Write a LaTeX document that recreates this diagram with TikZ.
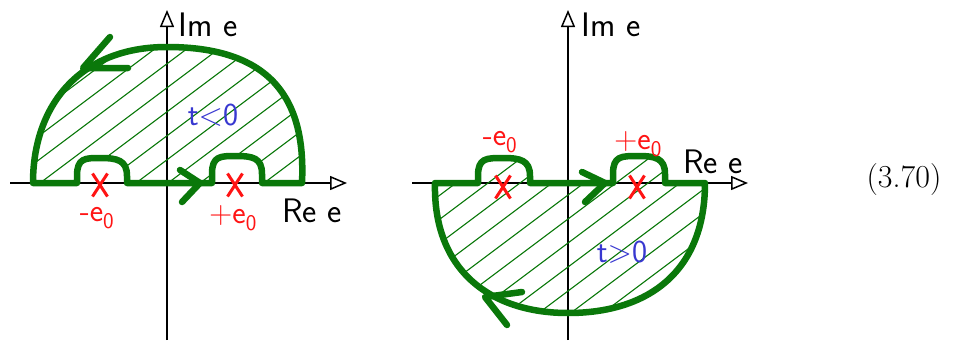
\documentclass[tikz,border=0pt]{standalone}
\usepackage{tikz}
\usetikzlibrary{arrows.meta,shapes.misc}
\definecolor{LoopGreen}{HTML}{0A780A}
\definecolor{PoleRed}{HTML}{FF1414}
\definecolor{TimeBlue}{HTML}{3838D0}
% closed contours (upper half for t<0, lower half for t>0)
\newcommand{\upperloop}{(33,183) -- (77,183) -- (77,176) .. controls (77,158) and (85,158) .. (100,158) .. controls (117,158) and (127,160) .. (127,176) -- (127,183) -- (212,183) -- (212,174) .. controls (212,156) and (220,156) .. (236,156) .. controls (253,156) and (262,158) .. (262,174) -- (262,183) -- (302,183) .. controls (306,100) and (272,47) .. (167,47) .. controls (80,47) and (33,105) .. (33,183) -- cycle}
\newcommand{\lowerloop}{(435,183) -- (478,183) -- (478,176) .. controls (478,158) and (486,158) .. (503,158) .. controls (520,158) and (530,160) .. (530,176) -- (530,183) -- (613,183) -- (613,174) .. controls (613,156) and (621,156) .. (638,156) .. controls (655,156) and (665,158) .. (665,174) -- (665,183) -- (705,183) .. controls (705,270) and (650,313) .. (568,313) .. controls (490,313) and (433,270) .. (435,183) -- cycle}
\tikzset{
  axis/.style={line width=1.5pt,-{Triangle[open,length=17pt,width=14pt,line width=1.5pt]}},
  contour/.style={draw=LoopGreen,line width=6.5pt,line join=round,line cap=round},
  chevron/.style={draw=LoopGreen,line width=6.5pt,line join=round,line cap=round},
  hatch/.style={draw=LoopGreen,line width=1.1pt},
  pole/.style={cross out,draw=PoleRed,line width=3pt,minimum width=12pt,minimum height=20pt,inner sep=0pt},
  hand/.style={font=\fontsize{34}{38}\sffamily\selectfont,inner sep=0pt},
  polelabel/.style={hand,font=\fontsize{32}{36}\sffamily\selectfont,text=PoleRed},
  timelabel/.style={hand,font=\fontsize{32}{36}\sffamily\selectfont,text=TimeBlue},
  eqnum/.style={font=\fontsize{32}{36}\selectfont,inner sep=0pt}
}
\begin{document}
\begin{tikzpicture}[x=1pt,y=-1pt]
  \useasboundingbox (0,0) rectangle (954,341);

  % left plane
  \coordinate (reLa) at (10,183);
  \coordinate (reLb) at (347,183);
  \coordinate (imLa) at (167,340);
  \coordinate (imLb) at (167,10);
  \draw[axis] (reLa) -- (reLb);
  \draw[axis] (imLa) -- (imLb);
  \begin{scope}
    \clip \upperloop;
    \foreach \k in {0,...,40}
      \draw[hatch] (-100,{\k*24}) -- (1000,{\k*24-825});
  \end{scope}
  \draw[contour] \upperloop;
  \draw[chevron] (180,170) -- (200,183) -- (182,202);
  \draw[chevron] (110,37) -- (83,68) -- (128,68);
  \node[pole] (poleLm) at (100,185) {};
  \node[pole] (poleLp) at (235,185) {};
  \node[polelabel] (labLm) at (97,218) {-e\textsubscript{0}};
  \node[polelabel] (labLp) at (233,218) {+e\textsubscript{0}};
  \node[timelabel] (tneg) at (213,115) {t<0};
  \node[hand] (imL) at (208,25) {Im e};
  \node[hand] (reL) at (312,211) {Re e};

  % right plane
  \coordinate (reRa) at (412,183);
  \coordinate (reRb) at (748,183);
  \coordinate (imRa) at (568,340);
  \coordinate (imRb) at (568,10);
  \draw[axis] (reRa) -- (reRb);
  \draw[axis] (imRa) -- (imRb);
  \begin{scope}
    \clip \lowerloop;
    \foreach \k in {0,...,40}
      \draw[hatch] (-100,{\k*24}) -- (1000,{\k*24-825});
  \end{scope}
  \draw[contour] \lowerloop;
  \draw[chevron] (582,172) -- (605,183) -- (585,202);
  \draw[chevron] (522,292) -- (485,297) -- (507,325);
  \node[pole] (poleRm) at (503,187) {};
  \node[pole] (poleRp) at (637,187) {};
  \node[polelabel] (labRm) at (500,142) {-e\textsubscript{0}};
  \node[polelabel] (labRp) at (638,144) {+e\textsubscript{0}};
  \node[timelabel] (tpos) at (622,252) {t>0};
  \node[hand] (imR) at (611,25) {Im e};
  \node[hand] (reR) at (713,162) {Re e};

  \node[eqnum] (eq) at (904,180) {(3.70)};
\end{tikzpicture}
\end{document}
